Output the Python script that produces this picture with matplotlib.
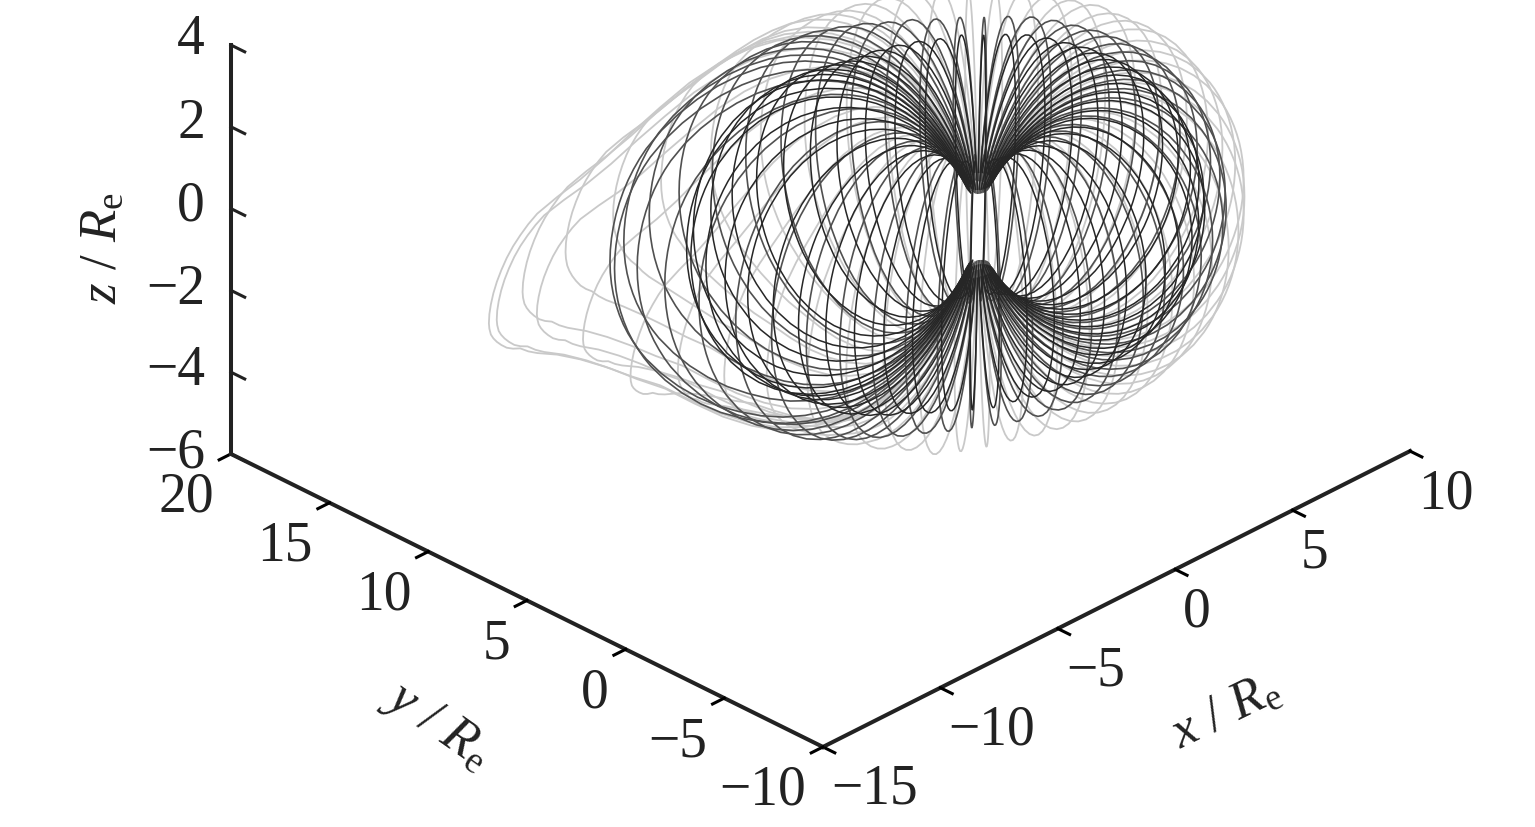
import matplotlib
matplotlib.use('Agg')
import matplotlib.pyplot as plt
import numpy as np
from mpl_toolkits.mplot3d import proj3d

plt.rcParams['font.family'] = 'Liberation Serif'
plt.rcParams['mathtext.fontset'] = 'custom'
plt.rcParams['mathtext.rm'] = 'Liberation Serif'
plt.rcParams['mathtext.it'] = 'Liberation Serif:italic'

# Tick values
x_ticks = [-15, -10, -5, 0, 5, 10]
y_ticks = [-10, -5, 0, 5, 10, 15, 20]
z_ticks = [-6, -4, -2, 0, 2, 4]
z_label_shift = [1, 2, 1, 3, 4, 6]

# Field line longitudes (deg), light shell and the two dark shells
longitude = [0, 7.5, 15, 22.5, 30, 37.5,
             45, 52.5, 60, 67.5, 75, 82.5,
             90, 97.5, 105, 112.5, 120, 127.5,
             135, 142.5, 150, 157.5, 165, 172.5,
             180, 187.5, 195, 202.5, 210, 217.5,
             225, 232.5, 240, 247.5, 255, 262.5,
             270, 277.5, 285, 292.5, 300, 307.5,
             315, 322.5, 330, 337.5, 345, 352.5]
longitude_dark = [3, 10.5, 18, 25.5, 33, 40.5,
                  48, 55.5, 63, 70.5, 78, 85.5,
                  93, 100.5, 108, 115.5, 123, 130.5,
                  138, 145.5, 153, 160.5, 168, 175.5,
                  183, 190.5, 198, 205.5, 213, 220.5,
                  228, 235.5, 243, 250.5, 258, 265.5,
                  273, 280.5, 288, 295.5, 303, 310.5,
                  318, 325.5, 333, 340.5, 348, 355.5]

# Equatorial crossing distance (Re) per longitude, three shells
apex_outer = [8.9, 8.9, 9.0, 9.0, 9.0, 9.1,
              9.2, 9.3, 9.5, 9.8, 10.1, 10.5,
              11.0, 11.8, 12.6, 13.4, 14.3, 15.2,
              16.0, 15.7, 14.6, 13.5, 12.5, 11.6,
              10.8, 10.2, 9.7, 9.3, 9.0, 8.9,
              8.8, 8.7, 8.6, 8.6, 8.6, 8.6,
              8.6, 8.6, 8.6, 8.6, 8.7, 8.7,
              8.7, 8.7, 8.8, 8.8, 8.8, 8.9]
apex_middle = [8.1, 8.1, 8.1, 8.15, 8.2, 8.2,
               8.2, 8.3, 8.4, 8.6, 8.8, 9.1,
               9.4, 9.8, 10.2, 10.7, 11.2, 11.7,
               12.0, 11.9, 11.4, 10.9, 10.3, 9.7,
               9.2, 8.8, 8.5, 8.3, 8.1, 8.0,
               7.9, 7.9, 7.9, 7.9, 7.9, 7.9,
               7.9, 7.9, 7.9, 8.0, 8.0, 8.1,
               8.1, 8.1, 8.1, 8.1, 8.1, 8.1]
apex_inner = [7.4, 7.4, 7.4, 7.45, 7.5, 7.5,
              7.5, 7.6, 7.6, 7.7, 7.8, 7.9,
              8.0, 8.2, 8.5, 8.8, 9.1, 9.4,
              9.5, 9.4, 9.1, 8.8, 8.5, 8.2,
              8.0, 7.8, 7.6, 7.4, 7.3, 7.2,
              7.2, 7.2, 7.1, 7.1, 7.1, 7.1,
              7.1, 7.1, 7.2, 7.2, 7.3, 7.3,
              7.4, 7.4, 7.4, 7.4, 7.4, 7.4]

# How strongly each line is pulled into the tail shape
tail_outer = [0, 0, 0, 0, 0, 0,
              0, 0, 0.02, 0.06, 0.12, 0.2,
              0.3, 0.42, 0.55, 0.72, 0.85, 0.95,
              1.0, 1.0, 1.0, 1.0, 1.0, 0.8,
              0.65, 0.5, 0.35, 0.2, 0.1, 0,
              0, 0, 0, 0, 0, 0,
              0, 0, 0, 0, 0, 0,
              0, 0, 0, 0, 0, 0]
tail_middle = [0, 0, 0, 0, 0, 0,
               0, 0, 0, 0, 0, 0,
               0, 0.02, 0.05, 0.1, 0.15, 0.2,
               0.2, 0.2, 0.15, 0.1, 0.05, 0,
               0, 0, 0, 0, 0, 0,
               0, 0, 0, 0, 0, 0,
               0, 0, 0, 0, 0, 0,
               0, 0, 0, 0, 0, 0]
tail_inner = [0] * len(longitude)

# Upward shift (Re) at the crossing
lift_outer = [0, 0, 0, 0, 0, 0,
              0, 0, 0, 0, 0, 0,
              0, 0, 0, 0, 0, 0,
              0.2, 1.0, 1.6, 1.3, 0.6, 0.6,
              0.35, 0.2, 0, 0, 0, 0,
              0, 0, 0, 0, 0, 0,
              0, 0, 0, 0, 0, 0,
              0, 0, 0, 0, 0, 0]
lift_middle = [0, 0, 0, 0, 0, 0,
               0, 0, 0, 0, 0, 0,
               0, 0, 0, 0, 0, 0,
               0.1, 0.5, 0.9, 0.8, 0.6, 0.3,
               0.1, 0, 0, 0, 0, 0,
               0, 0, 0, 0, 0, 0,
               0, 0, 0, 0, 0, 0,
               0, 0, 0, 0, 0, 0]
lift_inner = [0, 0, 0, 0, 0, 0,
              0, 0, 0, 0, 0, 0,
              0, 0, 0, 0, 0, 0,
              0, 0.2, 0.4, 0.4, 0.3, 0.2,
              0, 0, 0, 0, 0, 0,
              0, 0, 0, 0, 0, 0,
              0, 0, 0, 0, 0, 0,
              0, 0, 0, 0, 0, 0]

# Line shape, equator to pole, in units of the crossing distance
shape_rho = [1, .9990, .9959, .9908, .9837, .9745, .9635, .9506, .9359, .9194, .9012,
             .8602, .8137, .7624, .7074, .6495, .5899, .5295, .4694, .4104, .3536,
             .2996, .2492, .2031, .1616, .125, .0936, .0673, .0460, .0295, .0173, .0090]
shape_z = [0, .0262, .0522, .0780, .1034, .1283, .1526, .1762, .1989, .2207, .2415,
           .2795, .3123, .3395, .3604, .375, .3831, .3847, .3801, .3695, .3536,
           .3327, .3078, .2795, .2488, .2165, .1836, .1511, .1199, .0908, .0647, .0423]
tail_north = [-.125, -.137, -.148, -.157, -.165, -.172, -.178, -.184, -.19, -.195, -.20,
              -.213, -.22, -.215, -.198, -.175, -.147, -.12, -.095, -.073, -.054,
              -.038, -.025, -.015, -.008, -.003, 0, 0, 0, 0, 0, 0]
tail_south = [-.125, -.107, -.09, -.07, -.05, -.03, -.01, .012, .035, .052, .07,
              .105, .13, .145, .15, .15, .135, .115, .095, .075, .058,
              .043, .03, .02, .012, .005, 0, 0, 0, 0, 0, 0]


def field_line(lon, apex, tail, lift):
    rho_unit = np.array(shape_rho[::-1] + shape_rho[1:])
    north = np.array(shape_z) + tail * np.array(tail_north)
    south = -np.array(shape_z) + tail * np.array(tail_south)
    rho = rho_unit * apex
    z = np.concatenate([north[::-1], south[1:]]) * apex + lift * rho_unit ** 2
    keep = np.hypot(rho, z) >= 1
    a = np.deg2rad(lon)
    return rho[keep] * np.cos(a), rho[keep] * np.sin(a), z[keep]


fig = plt.figure(figsize=(15.35, 8.28), dpi=100)
side = 1233
ax = fig.add_axes([187.3 / 1535, -54.2 / 828, side / 1535, side / 828],
                  projection='3d', proj_type='ortho')
ax.view_init(elev=29.96, azim=-135.26)
ax.set_box_aspect((834, 833.5, 472))
ax.set_xlim(-15, 10, view_margin=0)
ax.set_ylim(-10, 20, view_margin=0)
ax.set_zlim(-6, 4, view_margin=0)
ax.patch.set_alpha(0)
ax.grid(False)

for lon, a1, t1, l1 in zip(longitude, apex_outer, tail_outer, lift_outer):
    ax.plot(*field_line(lon, a1, t1, l1), color='#c9c9c9', lw=1.3)
for lon, a2, t2, l2 in zip(longitude_dark, apex_middle, tail_middle, lift_middle):
    ax.plot(*field_line(lon, a2, t2, l2), color='#505050', lw=1.2)
for lon, a3, t3, l3 in zip(longitude_dark, apex_inner, tail_inner, lift_inner):
    ax.plot(*field_line(lon, a3, t3, l3), color='#262626', lw=1.1)

ax.set_xticks(x_ticks)
ax.set_yticks(y_ticks)
ax.set_zticks(z_ticks)
ax.set_xticklabels([])
ax.set_yticklabels([])
ax.set_zticklabels([])
ax.zaxis.set_ticks_position('upper')

for axis in (ax.xaxis, ax.yaxis, ax.zaxis):
    axis.set_pane_color((1, 1, 1, 0))
    axis.pane.set_edgecolor((1, 1, 1, 0))
    axis.line.set_color('#222222')
    axis.line.set_linewidth(2.9)
    axis._axinfo['tick']['inward_factor'] = 0.25
    axis._axinfo['tick']['outward_factor'] = 0.0
    axis._axinfo['tick']['linewidth'] = {True: 2.2, False: 2.2}
    axis._axinfo['tick']['color'] = '#222222'

# z ticks point along the y axis, the default direction is wrong here
ax.zaxis._axinfo['tick']['inward_factor'] = 0.0
for v in z_ticks:
    ax.plot([-15, -15], [20, 19.3], [v, v], color='#222222', lw=2.2)


def tick_text(value, x, y, z, dx, dy, ha):
    px, py, _ = proj3d.proj_transform(x, y, z, ax.get_proj())
    ax.annotate(str(value).replace('-', '\u2212'), xy=(px, py), xytext=(dx, dy),
                textcoords='offset pixels', ha=ha, va='center', fontsize=40,
                color='#222222', annotation_clip=False)


for v in x_ticks:
    tick_text(v, v, -10, -6, 8, -42, 'left')
for v in y_ticks:
    tick_text(v, -15, v, -6, -17, -43, 'right')
for v, shift in zip(z_ticks, z_label_shift):
    tick_text(v, -15, 20, v, -26, shift, 'right')

fig.text(103 / 1535, 1 - 248 / 828, r'$\mathit{z}$ / $\mathit{R}_{\mathrm{e}}$', fontsize=38,
         rotation=90, ha='center', va='center', color='#222222')
fig.text(437 / 1535, 1 - 725 / 828, r'$\mathit{y}$ / $\mathit{R}_{\mathrm{e}}$', fontsize=38,
         rotation=-35, ha='center', va='center', color='#222222')
fig.text(1226 / 1535, 1 - 712 / 828, r'$\mathit{x}$ / $\mathit{R}_{\mathrm{e}}$', fontsize=38,
         rotation=26, ha='center', va='center', color='#222222')

fig.savefig('out.png', dpi=100)
